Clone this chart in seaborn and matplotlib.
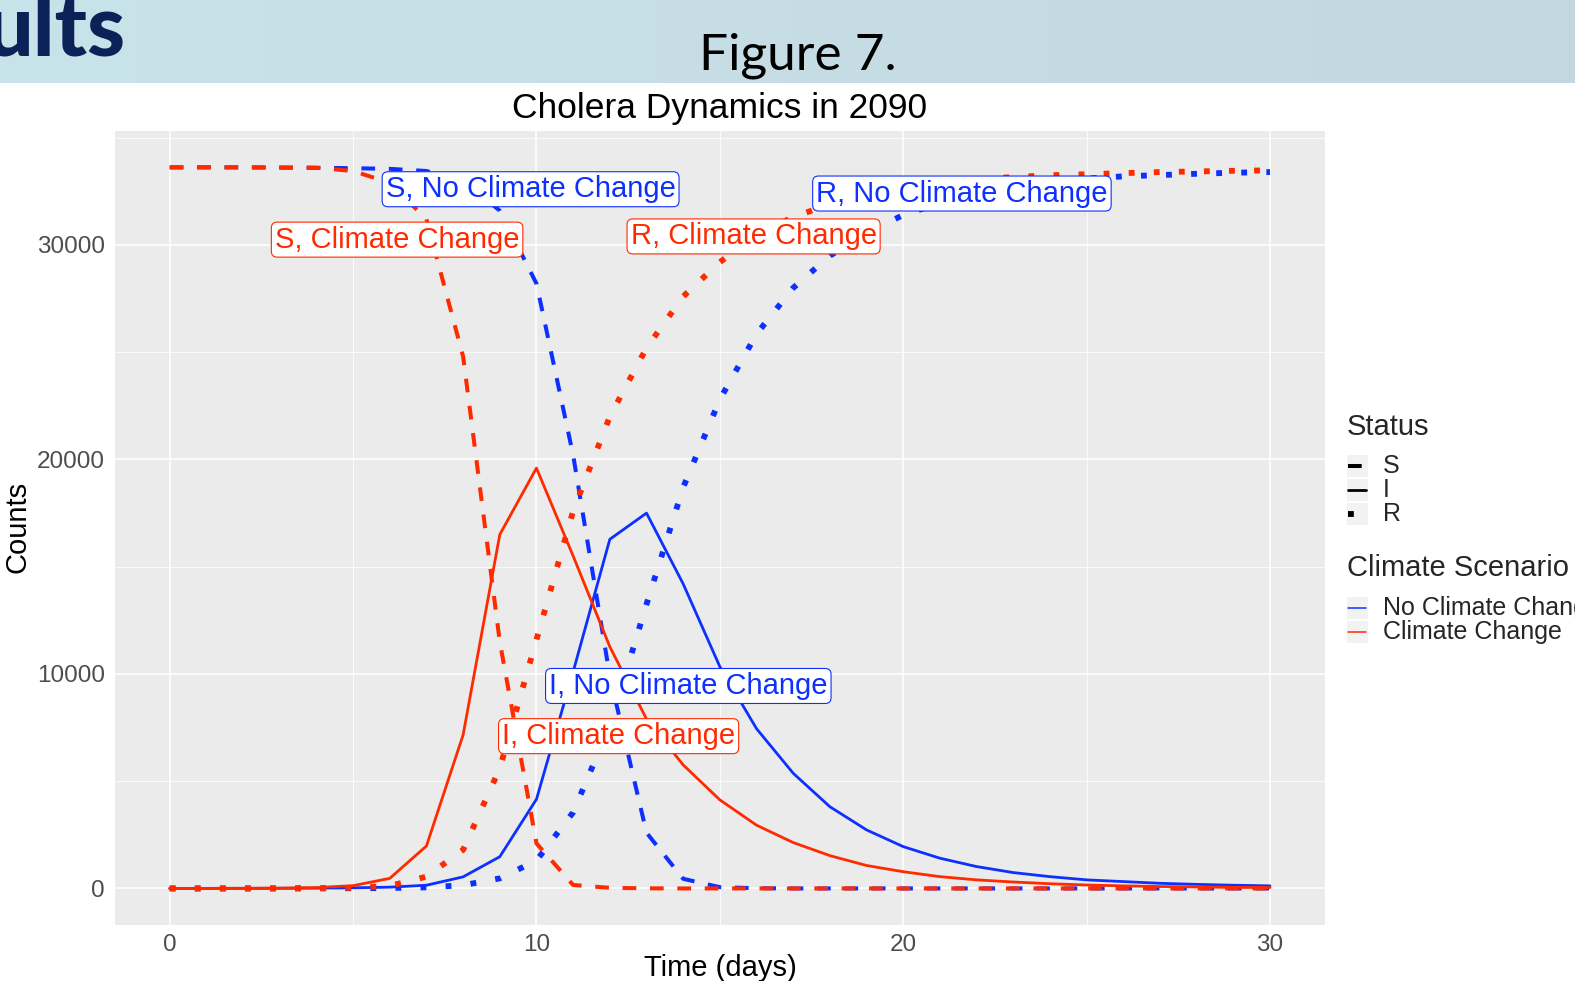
import numpy as np
import pandas as pd
import seaborn as sns
import matplotlib
matplotlib.use("Agg")
from matplotlib import pyplot as plt
from matplotlib.lines import Line2D
from matplotlib.patches import Rectangle
from matplotlib.ticker import MultipleLocator

# values (counts per day)
days = list(range(31))

s_no_cc = [33620, 33620, 33620, 33610, 33600, 33580, 33550, 33450, 33000, 31600, 28200,
           20200, 9900, 2600, 450, 60, 10, 0, 0, 0, 0, 0, 0, 0, 0, 0, 0, 0, 0, 0, 0]
i_no_cc = [2, 3, 5, 8, 15, 30, 60, 150, 540, 1480, 4160, 10100, 16280, 17500, 14200, 10340,
           7450, 5370, 3810, 2730, 1950, 1410, 1020, 740, 550, 400, 320, 240, 190, 150, 120]
r_no_cc = [0, 0, 1, 2, 4, 10, 20, 50, 150, 470, 1300, 3550, 7600, 13250, 18700, 22800,
           25850, 28000, 29500, 30550, 31400, 31950, 32400, 32700, 32950, 33100, 33200,
           33260, 33320, 33370, 33400]

s_cc = [33620, 33620, 33620, 33610, 33600, 33450, 32900, 31200, 24800, 11500, 2100,
        160, 30, 5, 0, 0, 0, 0, 0, 0, 0, 0, 0, 0, 0, 0, 0, 0, 0, 0, 0]
i_cc = [2, 4, 8, 15, 40, 130, 470, 1980, 7160, 16500, 19600, 15500, 11270, 7900, 5760,
        4130, 2950, 2140, 1530, 1070, 780, 550, 400, 300, 220, 160, 120, 90, 70, 50, 40]
r_cc = [0, 0, 1, 3, 8, 30, 120, 550, 1800, 5600, 11600, 17600, 22000, 25200, 27600, 29200,
        30500, 31300, 31900, 32300, 32650, 32900, 33050, 33170, 33250, 33300, 33350, 33400,
        33430, 33460, 33480]

scenarios = ["No Climate Change", "Climate Change"]
statuses = ["S", "I", "R"]
series = {
    ("No Climate Change", "S"): s_no_cc,
    ("No Climate Change", "I"): i_no_cc,
    ("No Climate Change", "R"): r_no_cc,
    ("Climate Change", "S"): s_cc,
    ("Climate Change", "I"): i_cc,
    ("Climate Change", "R"): r_cc,
}

# label positions (day, count) for the boxed annotations
label_text = ["S, No Climate Change", "S, Climate Change", "R, No Climate Change",
              "R, Climate Change", "I, No Climate Change", "I, Climate Change"]
label_x = [9.84, 6.2, 21.6, 15.92, 14.14, 12.24]
label_y = [32600, 30250, 32400, 30400, 9440, 7100]
label_scen = ["No Climate Change", "Climate Change", "No Climate Change",
              "Climate Change", "No Climate Change", "Climate Change"]

colors = {"No Climate Change": "#0d30ff", "Climate Change": "#ff2a00"}
widths = {"S": 2.9, "I": 2.0, "R": 4.2}
dashes = {"S": (3.4, 3.4), "I": "", "R": (1, 3.3)}

rows = []
for (scen, stat), vals in series.items():
    for d, v in zip(days, vals):
        rows.append({"Time": d, "Counts": v, "Scenario": scen, "Status": stat})
df = pd.DataFrame(rows)

sns.set_theme(style="darkgrid")
plt.rcParams["font.family"] = ["Liberation Sans", "DejaVu Sans"]

W, H = 1575, 981
fig = plt.figure(figsize=(W / 100, H / 100), dpi=100)
fig.patch.set_facecolor("white")

# header band of the slide
hdr = fig.add_axes([0, 1 - 83.3 / H, 1, 83.3 / H])
grad = np.linspace(0, 1, 256)
c0 = np.array([201, 227, 234]) / 255
c1 = np.array([195, 215, 224]) / 255
img = (c0[None, :] * (1 - grad[:, None]) + c1[None, :] * grad[:, None])[None, :, :]
hdr.imshow(img, aspect="auto", extent=[0, 1, 0, 1])
hdr.axis("off")
fig.text(126 / W, 1 - 55 / H, "ults", ha="right", va="baseline", fontsize=62,
         fontfamily="Lato", fontweight="black", color="#0a2258")
fig.text(798 / W, 1 - 69.5 / H, "Figure 7.", ha="center", va="baseline", fontsize=37,
         fontfamily="Lato", color="black")

ax = fig.add_axes([114.7 / W, 1 - 924.5 / H, (1325 - 114.7) / W, (924.5 - 131.3) / H])
ax.set_facecolor("#ebebeb")

for scen in scenarios:
    for stat in statuses:
        sub = df[(df["Scenario"] == scen) & (df["Status"] == stat)]
        sns.lineplot(data=sub, x="Time", y="Counts", color=colors[scen],
                     linewidth=widths[stat], dashes=dashes[stat], legend=False, ax=ax)

for t, x, y, scen in zip(label_text, label_x, label_y, label_scen):
    ax.text(x, y, t, ha="center", va="center", fontsize=21, color=colors[scen], zorder=5,
            bbox=dict(boxstyle="round,pad=0.12,rounding_size=0.2", fc="white",
                      ec=colors[scen], lw=0.8, alpha=1))

ymax = max(max(v) for v in series.values())
ax.set_xlim(-1.5, 31.5)
ax.set_ylim(-0.05 * ymax, 1.05 * ymax)
ax.xaxis.set_major_locator(MultipleLocator(10))
ax.xaxis.set_minor_locator(MultipleLocator(5))
ax.yaxis.set_major_locator(MultipleLocator(10000))
ax.yaxis.set_minor_locator(MultipleLocator(5000))
ax.grid(which="major", color="white", linewidth=1.1)
ax.grid(which="minor", color="white", linewidth=0.55)
for sp in ax.spines.values():
    sp.set_visible(False)
ax.tick_params(which="major", length=4, width=1, color="#333333", labelsize=17.5,
               labelcolor="#4d4d4d", pad=3)
ax.tick_params(which="minor", length=0)
ax.set(xlabel=None, ylabel=None)

fig.text(720 / W, 1 - 118 / H, "Cholera Dynamics in 2090", ha="center", va="baseline",
         fontsize=25.5, color="black")
fig.text(18 / W, 1 - 527 / H, "Counts", rotation=90, ha="center", va="center",
         fontsize=21, color="black")
fig.text(720 / W, 1 - 968 / H, "Time (days)", ha="center", va="center",
         fontsize=21, color="black")

# legends drawn in figure pixels
def fx(px):
    return px / W

def fy(py):
    return 1 - py / H

def key_box(cy):
    fig.add_artist(Rectangle((fx(1347), fy(cy + 11)), 21 / W, 22 / H,
                             transform=fig.transFigure, fc="#f2f2f2", ec="none"))

fig.text(fx(1346.7), fy(426.7), "Status", ha="left", va="center", fontsize=21)
for stat, cy in zip(statuses, [466, 490, 514]):
    key_box(cy)
    fig.add_artist(Line2D([fx(1348), fx(1366)], [fy(cy), fy(cy)], transform=fig.transFigure,
                          color="black", linewidth=widths[stat], dashes=dashes[stat]
                          if dashes[stat] else (None, None)))
    fig.text(fx(1383), fy(cy), stat, ha="left", va="center", fontsize=18)

fig.text(fx(1346.7), fy(568), "Climate Scenario", ha="left", va="center", fontsize=21)
for scen, cy in zip(scenarios, [608, 632]):
    key_box(cy)
    fig.add_artist(Line2D([fx(1348), fx(1366)], [fy(cy), fy(cy)], transform=fig.transFigure,
                          color=colors[scen], linewidth=1.1))
    fig.text(fx(1383), fy(cy), scen, ha="left", va="center", fontsize=18)

plt.savefig("out.png", dpi=100)
